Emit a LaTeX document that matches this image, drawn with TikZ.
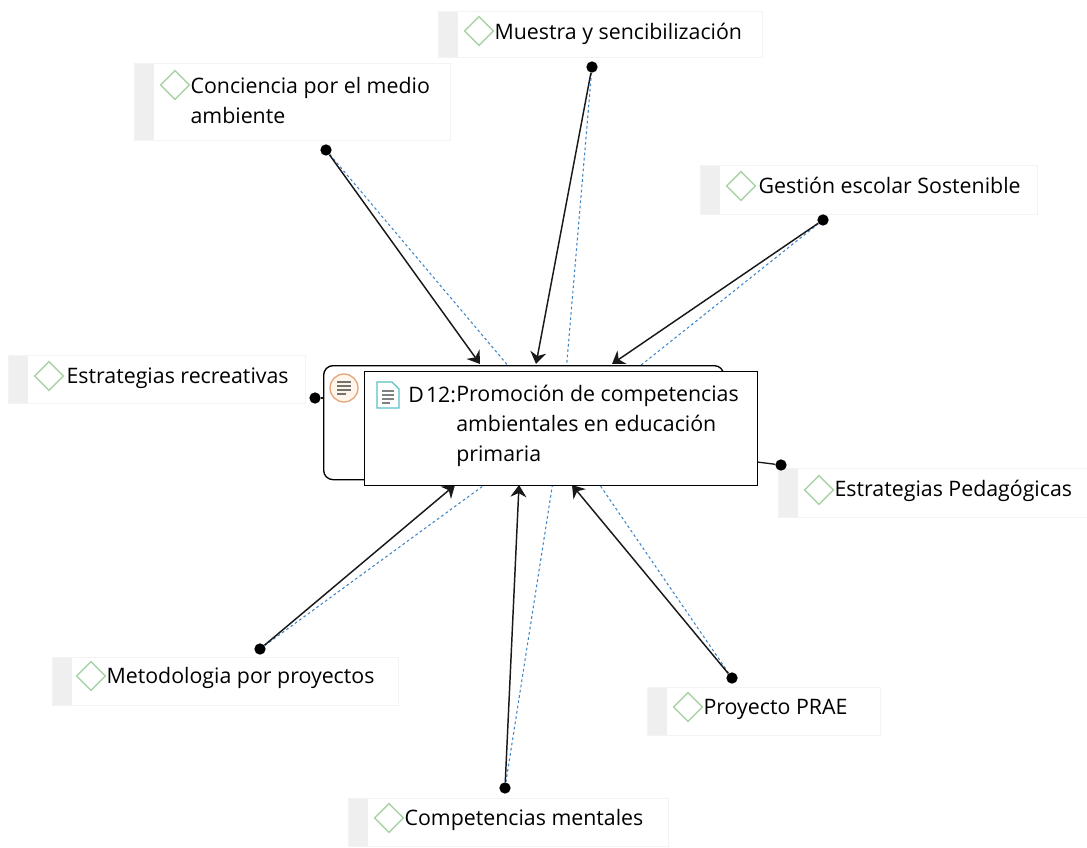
\documentclass[tikz,border=0pt]{standalone}
\usepackage{fontspec}
\setmainfont{Open Sans}
\usetikzlibrary{positioning,arrows.meta,shapes.geometric,backgrounds}
\definecolor{linkblue}{HTML}{3F86C6}
\definecolor{tagborder}{HTML}{F3F3F3}
\definecolor{tagstrip}{HTML}{EFEFEF}
\definecolor{codegreen}{HTML}{A9D3A6}
\definecolor{memoorange}{HTML}{E3A67C}
\definecolor{doccyan}{HTML}{5CC0C8}
\begin{document}
\begin{tikzpicture}[
        x=0.75pt,y=-0.75pt,
        tagbox/.style={draw=tagborder,fill=white,anchor=north west,inner sep=0pt,
            path picture={\fill[tagstrip] (path picture bounding box.north west) rectangle ([xshift=15pt]path picture bounding box.south west);}},
        codemark/.style={diamond,draw=codegreen,line width=1pt,fill=white,inner sep=0pt,minimum width=22pt,minimum height=22pt},
        taglabel/.style={anchor=north west,inner sep=0pt,align=left,font=\fontsize{16}{22.5}\selectfont,text=black,execute at begin node=\strut},
        enddot/.style={circle,fill=black,inner sep=0pt,minimum size=8.5pt},
        plainlink/.style={black!90,line width=1.1pt,-{Stealth[length=9pt,width=12pt]}},
        dashlink/.style={linkblue,line width=.8pt,dash pattern=on 2pt off 2pt}
    ]
    \useasboundingbox (0,0) rectangle (1087,848);
    % quotation box and document box
    \node[draw=black,line width=1pt,rounded corners=7pt,fill=white,anchor=north west,inner sep=0pt,minimum width=300pt,minimum height=85.5pt] (quote) at (323,365) {};
    \node[circle,draw=memoorange,line width=1pt,fill=orange!8,inner sep=0pt,minimum size=21pt] (memo) at (344,388) {};
    \draw[black!55,line width=1pt] (337,382) -- (351,382) (337,386) -- (351,386) (337,390) -- (351,390) (337,394) -- (346,394);
    \node[draw=black,line width=1.1pt,fill=white,anchor=north west,inner sep=0pt,minimum width=294.75pt,minimum height=85.5pt] (doc) at (364,371) {};
    \draw[doccyan,line width=.9pt] (377,382) -- (392,382) -- (399,389) -- (399,408) -- (377,408) -- cycle;
    \draw[black!50,line width=.9pt] (382,391) -- (394,391) (382,395) -- (394,395) (382,399) -- (394,399) (382,403) -- (390,403);
    \node[taglabel] (docnum) at (408,381) {D\hspace{-2.5pt} 12:};
    \node[taglabel] (doctitle) at (456,385) {Promoción de competencias\\ambientales en educación\\primaria};
    % code boxes
    \node[tagbox,minimum width=237pt,minimum height=57.75pt] (conciencia) at (134,63) {};
    \node[codemark] (concienciaMark) at ([shift={(41,22)}]conciencia.north west) {};
    \node[taglabel] (concienciaText) at ([yshift=6pt]concienciaMark.east) {Conciencia por el medio\\ambiente};
    \node[tagbox,minimum width=243pt,minimum height=34.5pt] (muestra) at (438,11) {};
    \node[codemark] (muestraMark) at ([shift={(41,20)}]muestra.north west) {};
    \node[taglabel] (muestraText) at ([yshift=9.5pt]muestraMark.east) {Muestra y sencibilización};
    \node[tagbox,minimum width=252.75pt,minimum height=36.75pt] (gestion) at (700,165) {};
    \node[codemark] (gestionMark) at ([shift={(41,21)}]gestion.north west) {};
    \node[taglabel] (gestionText) at ([xshift=1.5pt,yshift=10pt]gestionMark.east) {Gestión escolar Sostenible};
    \node[tagbox,minimum width=222.75pt,minimum height=36pt] (recreativas) at (8,355) {};
    \node[codemark] (recreativasMark) at ([shift={(41,21)}]recreativas.north west) {};
    \node[taglabel] (recreativasText) at ([xshift=1.5pt,yshift=10.5pt]recreativasMark.east) {Estrategias recreativas};
    \node[tagbox,minimum width=231.75pt,minimum height=36.75pt] (pedagogicas) at (778,468) {};
    \node[codemark] (pedagogicasMark) at ([shift={(41,22)}]pedagogicas.north west) {};
    \node[taglabel] (pedagogicasText) at ([yshift=11pt]pedagogicasMark.east) {Estrategias Pedagógicas};
    \node[tagbox,minimum width=259.5pt,minimum height=36pt] (metodologia) at (52,657) {};
    \node[codemark] (metodologiaMark) at ([shift={(39,19)}]metodologia.north west) {};
    \node[taglabel] (metodologiaText) at ([yshift=10.5pt]metodologiaMark.east) {Metodologia por proyectos};
    \node[tagbox,minimum width=174.75pt,minimum height=36pt] (prae) at (647,687) {};
    \node[codemark] (praeMark) at ([shift={(41,20)}]prae.north west) {};
    \node[taglabel] (praeText) at ([yshift=10.5pt]praeMark.east) {Proyecto PRAE};
    \node[tagbox,minimum width=240pt,minimum height=36pt] (mentales) at (348,798) {};
    \node[codemark] (mentalesMark) at ([shift={(41,20)}]mentales.north west) {};
    \node[taglabel] (mentalesText) at ([yshift=10.5pt]mentalesMark.east) {Competencias mentales};
    % end dots
    \node[enddot] (concienciaDot) at (326,150) {};
    \node[enddot] (muestraDot) at (592,67) {};
    \node[enddot] (gestionDot) at (823,220) {};
    \node[enddot] (recreativasDot) at (315,398) {};
    \node[enddot] (pedagogicasDot) at (781,465) {};
    \node[enddot] (metodologiaDot) at (260,649) {};
    \node[enddot] (praeDot) at (732,678) {};
    \node[enddot] (mentalesDot) at (505,788) {};
    % arrow ends on the boxes
    \coordinate (concienciaTip) at (480,364);
    \coordinate (muestraTip) at (536,364);
    \coordinate (gestionTip) at (612,364);
    \coordinate (metodologiaTip) at (455,485);
    \coordinate (mentalesTip) at (519,485);
    \coordinate (praeTip) at (572,485);
    \coordinate (pedagogicasEnd) at (757,462);
    \begin{pgfonlayer}{background}
        \draw[dashlink] (concienciaDot) -- (doc.center);
        \draw[dashlink] (muestraDot) -- (doc.center);
        \draw[dashlink] (gestionDot) -- (doc.center);
        \draw[dashlink] (metodologiaDot) -- (doc.center);
        \draw[dashlink] (praeDot) -- (doc.center);
        \draw[dashlink] (mentalesDot) -- (doc.center);
        \draw[plainlink] (concienciaDot) -- (concienciaTip);
        \draw[plainlink] (muestraDot) -- (muestraTip);
        \draw[plainlink] (gestionDot) -- (gestionTip);
        \draw[plainlink] (metodologiaDot) -- (metodologiaTip);
        \draw[plainlink] (praeDot) -- (praeTip);
        \draw[plainlink] (mentalesDot) -- (mentalesTip);
        \draw[black!90,line width=1pt] (recreativasDot) -- (quote.west |- recreativasDot);
        \draw[black!90,line width=1pt] (pedagogicasDot) -- (pedagogicasEnd);
    \end{pgfonlayer}
\end{tikzpicture}
\end{document}
